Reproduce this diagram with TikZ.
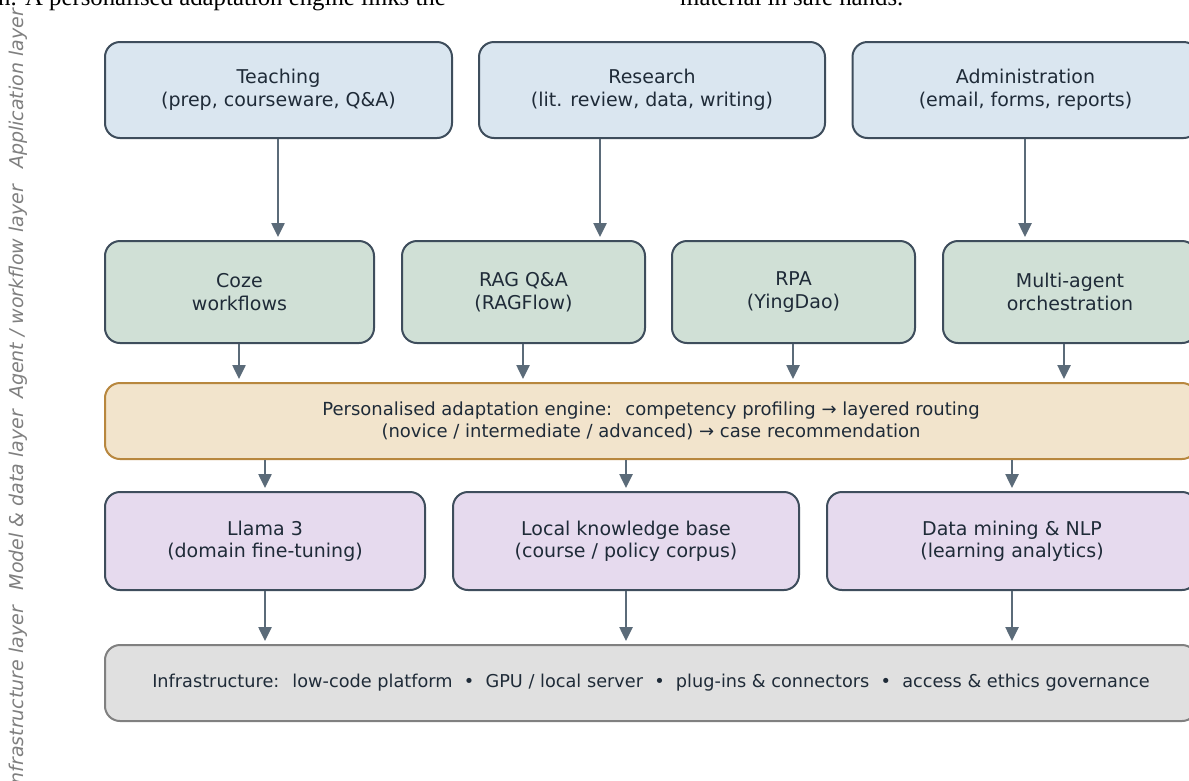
\documentclass[tikz,border=0pt]{standalone}
\usepackage{fontspec}
\setmainfont{DejaVu Sans}
\newfontfamily\serifx{Liberation Serif}
\usetikzlibrary{arrows.meta}
\definecolor{txt}{HTML}{1F2B38}
\definecolor{edge}{HTML}{3E4D5C}
\definecolor{fblue}{HTML}{DAE6F0}
\definecolor{fgreen}{HTML}{D0E0D6}
\definecolor{fengine}{HTML}{F2E4CC}
\definecolor{sengine}{HTML}{B8873E}
\definecolor{fpurple}{HTML}{E6DAEE}
\definecolor{fgrey}{HTML}{E0E0E0}
\definecolor{sgrey}{HTML}{808080}
\definecolor{arrc}{HTML}{5B6B79}
\definecolor{lab}{HTML}{7F7F7F}
\tikzset{
  box/.style={draw=edge, line width=2pt, rounded corners=15pt, inner sep=0pt,
    align=center, text=txt, font=\fontsize{19}{22.5}\selectfont},
  bluebox/.style={box, fill=fblue, minimum height=96pt},
  greenbox/.style={box, fill=fgreen, minimum height=102pt},
  purplebox/.style={box, fill=fpurple, minimum height=98pt},
  enginebox/.style={box, draw=sengine, fill=fengine, minimum height=76pt, minimum width=1092pt,
    font=\fontsize{18}{22}\selectfont},
  infrabox/.style={box, draw=sgrey, fill=fgrey, minimum height=76pt, minimum width=1092pt,
    font=\fontsize{17.7}{22}\selectfont},
  arr/.style={draw=arrc, line width=2.5pt, -{Triangle[width=13pt,length=14pt]}, shorten >=3pt},
  layerlab/.style={rotate=90, text=lab, font=\fontsize{19}{22}\selectfont\itshape, inner sep=0pt}
}
\begin{document}
\begin{tikzpicture}[x=1pt,y=-1pt]
\useasboundingbox (0,0) rectangle (1189,780);
\clip (0,0) rectangle (1189,780);
\fill[white] (0,0) rectangle (1189,780);

% cut-off running text at top
\node[anchor=base east, inner sep=0pt, font=\serifx\fontsize{24.8}{28}\selectfont] (toptextL) at (446,5) {sentation. A personalised adaptation engine links the};
\node[anchor=base west, inner sep=0pt, font=\serifx\fontsize{24.8}{28}\selectfont] (toptextR) at (680,5) {material in safe hands.};

% layer labels
\node[layerlab] (lapp) at (18,89) {Application layer};
\node[layerlab] (lagent) at (18,292) {Agent / workflow layer};
\node[layerlab] (lmodel) at (18,500) {Model \& data layer};
\node[layerlab] (linfra) at (18,698) {Infrastructure layer};

% row 1
\node[bluebox, minimum width=347pt] (teach) at (278.5,90) {Teaching\\(prep, courseware, Q\&A)};
\node[bluebox, minimum width=346pt] (research) at (652,90) {Research\\(lit. review, data, writing)};
\node[bluebox, minimum width=346pt] (admin) at (1025.5,90) {Administration\\(email, forms, reports)};

% row 2
\node[greenbox, minimum width=269pt] (coze) at (239.5,292) {Coze\\workflows};
\node[greenbox, minimum width=243pt] (rag) at (523.5,292) {RAG Q\&A\\(RAGFlow)};
\node[greenbox, minimum width=243pt] (rpa) at (793.5,292) {RPA\\(YingDao)};
\node[greenbox, minimum width=254pt] (multi) at (1070,292) {Multi-agent\\orchestration};

% engine
\node[enginebox] (engine) at (651,421) {Personalised adaptation engine:~ competency profiling → layered routing\\(novice / intermediate / advanced) → case recommendation};

% row 4
\node[purplebox, minimum width=320pt] (llama) at (265,541) {Llama 3\\(domain fine-tuning)};
\node[purplebox, minimum width=346pt] (kb) at (626,541) {Local knowledge base\\(course / policy corpus)};
\node[purplebox, minimum width=370pt] (dm) at (1012,541) {Data mining \& NLP\\(learning analytics)};

% infrastructure
\node[infrabox] (infra) at (651,683) {Infrastructure:~ low-code platform ~•~ GPU / local server ~•~ plug-ins \& connectors ~•~ access \& ethics governance};

% arrow columns
\coordinate (a1) at (278,0);
\coordinate (a2) at (600,0);
\coordinate (a3) at (1025,0);
\coordinate (b1) at (239,0);
\coordinate (b2) at (523,0);
\coordinate (b3) at (793,0);
\coordinate (b4) at (1064,0);
\coordinate (c1) at (265,0);
\coordinate (c2) at (626,0);
\coordinate (c3) at (1012,0);

\draw[arr] (teach.south -| a1) -- (coze.north -| a1);
\draw[arr] (research.south -| a2) -- (rag.north -| a2);
\draw[arr] (admin.south -| a3) -- (multi.north -| a3);

\draw[arr] (coze.south -| b1) -- (engine.north -| b1);
\draw[arr] (rag.south -| b2) -- (engine.north -| b2);
\draw[arr] (rpa.south -| b3) -- (engine.north -| b3);
\draw[arr] (multi.south -| b4) -- (engine.north -| b4);

\draw[arr] (engine.south -| c1) -- (llama.north -| c1);
\draw[arr] (engine.south -| c2) -- (kb.north -| c2);
\draw[arr] (engine.south -| c3) -- (dm.north -| c3);

\draw[arr] (llama.south -| c1) -- (infra.north -| c1);
\draw[arr] (kb.south -| c2) -- (infra.north -| c2);
\draw[arr] (dm.south -| c3) -- (infra.north -| c3);
\end{tikzpicture}
\end{document}
